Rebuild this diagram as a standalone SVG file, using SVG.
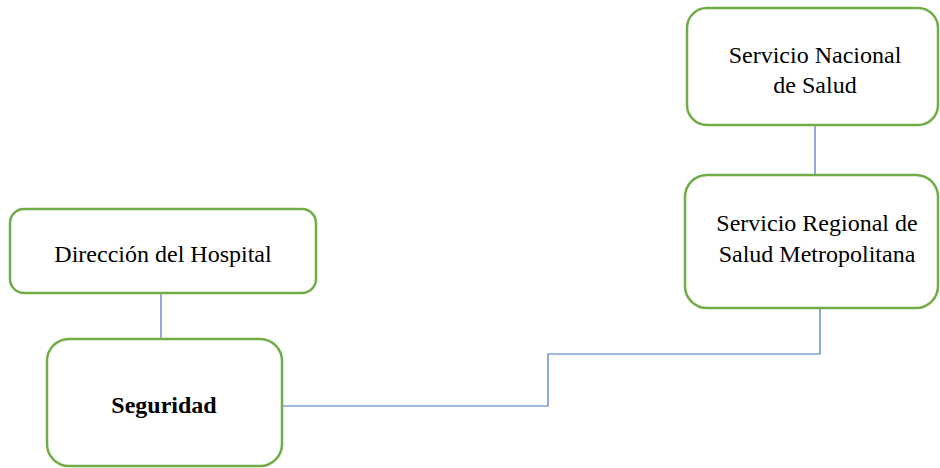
<svg xmlns="http://www.w3.org/2000/svg" width="940" height="468" viewBox="0 0 940 468">
<style>
.box{fill:#fff;stroke:#70AD47;stroke-width:2.5}
.t{font-family:'Liberation Serif','Times New Roman',serif;font-size:24px;fill:#000;text-anchor:middle}
.b{font-weight:bold}
.c{fill:none;stroke:#4472C4;stroke-width:1.2}
</style>
<rect width="940" height="468" fill="#fff"/>
<g id="connectors">
<line class="c" x1="161" y1="293" x2="161" y2="339"/>
<line class="c" x1="815" y1="125" x2="815" y2="175"/>
<polyline class="c" points="820,308 820,354 548,354 548,406 279,406"/>
</g>
<g id="direccion">
<rect class="box" x="10" y="209" width="306" height="84" rx="14"/>
<text class="t" x="163" y="262">Dirección del Hospital</text>
</g>
<g id="seguridad">
<rect class="box" x="47" y="339" width="235" height="127" rx="22"/>
<text class="t b" x="164" y="413">Seguridad</text>
</g>
<g id="nacional">
<rect class="box" x="687" y="8" width="251" height="117" rx="20"/>
<text class="t" x="815" y="63">Servicio Nacional</text>
<text class="t" x="815" y="93">de Salud</text>
</g>
<g id="regional">
<rect class="box" x="685" y="175" width="253" height="133" rx="22"/>
<text class="t" x="817" y="231">Servicio Regional de</text>
<text class="t" x="817" y="262">Salud Metropolitana</text>
</g>
</svg>
